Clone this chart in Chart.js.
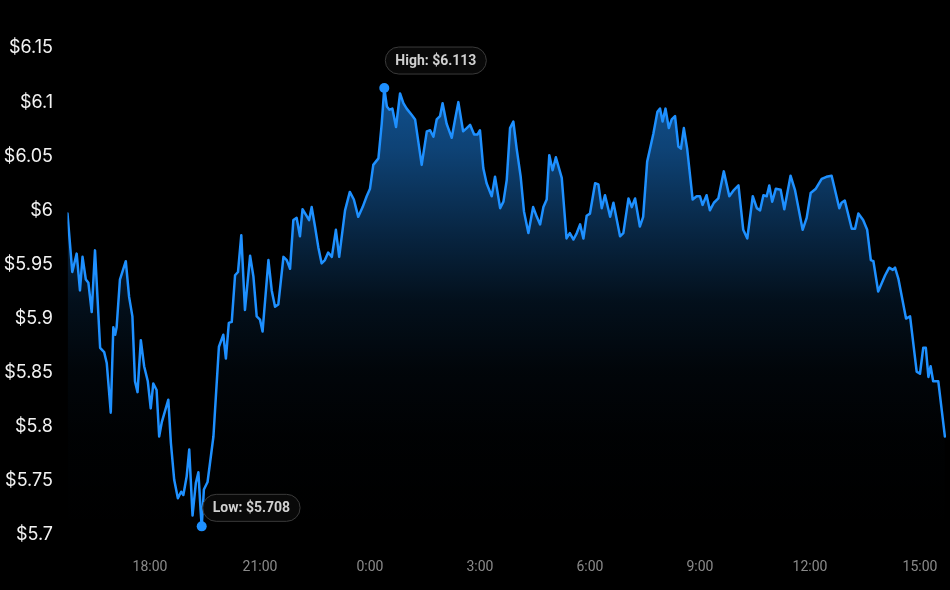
<!DOCTYPE html>
<html>
<head>
<meta charset="utf-8">
<script src="https://cdn.jsdelivr.net/npm/chart.js@4.4.1/dist/chart.umd.min.js"></script>
<style>
  html, body { margin: 0; padding: 0; background: #000; overflow: hidden; }
  #wrap { width: 950px; height: 590px; position: relative; }
</style>
</head>
<body>
<div id="wrap"><canvas id="c"></canvas></div>
<script>
// Time of each price point, in hours (values above 24 belong to the next day)
const times = [15.75,15.88,16.00,16.09,16.16,16.25,16.32,16.41,16.50,16.64,
  16.75,16.82,16.93,17.00,17.05,17.09,17.18,17.34,17.43,17.52,
  17.59,17.66,17.75,17.84,17.94,18.02,18.09,18.18,18.25,18.32,
  18.50,18.57,18.66,18.76,18.85,18.91,19.00,19.07,19.16,19.25,
  19.32,19.38,19.41,19.47,19.57,19.73,19.88,20.00,20.07,20.15,
  20.23,20.32,20.40,20.49,20.59,20.73,20.82,20.91,21.00,21.07,
  21.23,21.32,21.41,21.50,21.64,21.73,21.82,21.91,22.00,22.09,
  22.16,22.25,22.34,22.41,22.50,22.59,22.68,22.77,22.86,22.96,
  23.07,23.16,23.32,23.45,23.56,23.68,23.80,23.91,24.00,24.09,
  24.23,24.32,24.39,24.46,24.53,24.61,24.71,24.82,24.91,25.00,
  25.14,25.23,25.41,25.55,25.64,25.73,25.82,25.91,25.98,26.09,
  26.23,26.32,26.41,26.54,26.64,26.73,26.84,26.93,27.00,27.09,
  27.18,27.32,27.41,27.55,27.64,27.73,27.82,27.91,28.00,28.11,
  28.20,28.32,28.45,28.55,28.64,28.73,28.82,28.89,28.98,29.07,
  29.23,29.36,29.45,29.55,29.64,29.73,29.82,29.91,30.00,30.14,
  30.23,30.32,30.41,30.55,30.64,30.82,30.91,31.05,31.14,31.23,
  31.36,31.45,31.56,31.73,31.84,31.91,31.98,32.06,32.15,32.23,
  32.32,32.41,32.48,32.56,32.65,32.80,32.91,33.00,33.07,33.18,
  33.27,33.38,33.50,33.65,33.80,33.93,34.05,34.18,34.29,34.44,
  34.55,34.64,34.73,34.82,34.89,34.97,35.07,35.20,35.30,35.47,
  35.59,35.80,35.91,36.02,36.16,36.32,36.45,36.59,36.66,36.80,
  36.86,36.95,37.14,37.23,37.32,37.45,37.56,37.66,37.73,37.86,
  38.05,38.16,38.26,38.32,38.41,38.62,38.73,38.91,39.00,39.09,
  39.16,39.23,39.29,39.36,39.50,39.68];

// Price in USD at each time
const prices = [5.997,5.943,5.960,5.926,5.957,5.936,5.933,5.906,5.963,5.873,
  5.869,5.859,5.813,5.892,5.885,5.892,5.936,5.953,5.920,5.902,
  5.842,5.832,5.880,5.856,5.842,5.817,5.840,5.834,5.791,5.804,
  5.825,5.785,5.751,5.734,5.740,5.737,5.754,5.779,5.718,5.748,
  5.758,5.723,5.708,5.742,5.749,5.791,5.874,5.885,5.863,5.896,
  5.897,5.940,5.943,5.977,5.908,5.958,5.939,5.902,5.899,5.888,
  5.954,5.926,5.911,5.913,5.957,5.954,5.946,5.991,5.993,5.976,
  6.001,5.996,5.991,6.003,5.985,5.966,5.951,5.954,5.961,5.957,
  5.982,5.957,6.000,6.017,6.010,5.994,6.003,6.013,6.020,6.042,
  6.048,6.080,6.113,6.096,6.093,6.094,6.077,6.108,6.099,6.094,
  6.088,6.084,6.042,6.073,6.074,6.068,6.084,6.087,6.099,6.080,
  6.067,6.084,6.100,6.073,6.076,6.079,6.070,6.070,6.074,6.039,
  6.025,6.013,6.031,6.002,6.008,6.028,6.076,6.082,6.057,6.031,
  5.999,5.979,6.003,5.994,5.987,6.003,6.010,6.051,6.037,6.049,
  6.030,5.974,5.979,5.973,5.979,5.987,5.974,5.995,5.997,6.025,
  6.024,6.002,6.014,5.994,6.007,5.976,5.979,6.011,6.003,6.011,
  5.985,5.994,6.045,6.071,6.091,6.094,6.082,6.094,6.076,6.084,
  6.087,6.059,6.057,6.076,6.057,6.010,6.013,6.013,6.005,6.014,
  6.000,6.007,6.011,6.036,6.013,6.019,6.023,5.982,5.974,6.013,
  6.002,6.000,6.014,6.013,6.023,6.008,6.020,6.019,6.001,6.032,
  6.019,5.982,5.993,6.016,6.020,6.029,6.031,6.032,6.022,6.002,
  6.007,6.009,5.983,5.983,5.997,5.991,5.982,5.954,5.953,5.925,
  5.940,5.947,5.945,5.947,5.937,5.900,5.902,5.851,5.849,5.873,
  5.873,5.846,5.856,5.842,5.842,5.791];

// Axis ticks
const xTickHours = [18, 21, 24, 27, 30, 33, 36, 39];
const yTickValues = [5.7, 5.75, 5.8, 5.85, 5.9, 5.95, 6.0, 6.05, 6.1, 6.15];

const LINE = '#1E90FF';

const hiVal = Math.max(...prices);
const loVal = Math.min(...prices);
const hiIdx = prices.indexOf(hiVal);
const loIdx = prices.indexOf(loVal);

const pillPlugin = {
  id: 'pills',
  afterDatasetsDraw(chart) {
    const meta = chart.getDatasetMeta(0);
    const ctx = chart.ctx;
    const draw = (idx, text, dx, dy) => {
      const p = meta.data[idx];
      ctx.save();
      ctx.font = 'bold 14px Roboto, "Noto Sans", sans-serif';
      const w = ctx.measureText(text).width + 20;
      const h = 27;
      const x = p.x + dx, y = p.y + dy;
      ctx.beginPath();
      ctx.roundRect(x, y, w, h, h / 2);
      ctx.fillStyle = 'rgba(10,10,10,0.92)';
      ctx.fill();
      ctx.lineWidth = 1;
      ctx.strokeStyle = '#3a3a3a';
      ctx.stroke();
      ctx.fillStyle = '#d0d0d0';
      ctx.textBaseline = 'middle';
      ctx.textAlign = 'left';
      ctx.fillText(text, x + 10, y + h / 2 + 0.5);
      ctx.restore();
    };
    draw(hiIdx, 'High: $' + hiVal.toFixed(3), 1, -41);
    draw(loIdx, 'Low: $' + loVal.toFixed(3), 1, -32);
  }
};

new Chart(document.getElementById('c'), {
  type: 'line',
  data: {
    datasets: [{
      data: times.map((t, i) => ({ x: t, y: prices[i] })),
      borderColor: LINE,
      borderWidth: 2.5,
      borderJoinStyle: 'round',
      borderCapStyle: 'round',
      tension: 0,
      fill: 'start',
      backgroundColor: (c) => {
        const area = c.chart.chartArea;
        if (!area) return 'rgba(30,144,255,0.2)';
        const g = c.chart.ctx.createLinearGradient(0, area.top, 0, area.bottom);
        g.addColorStop(0, 'rgba(30,144,255,0.62)');
        g.addColorStop(0.21, 'rgba(30,144,255,0.46)');
        g.addColorStop(0.38, 'rgba(30,144,255,0.26)');
        g.addColorStop(0.52, 'rgba(30,144,255,0.11)');
        g.addColorStop(0.66, 'rgba(30,144,255,0.04)');
        g.addColorStop(0.8, 'rgba(30,144,255,0.012)');
        g.addColorStop(1, 'rgba(30,144,255,0.0)');
        return g;
      },
      pointRadius: (c) => (c.dataIndex === hiIdx || c.dataIndex === loIdx) ? 5 : 0,
      pointBackgroundColor: LINE,
      pointBorderWidth: 0,
      pointHoverRadius: 0
    }]
  },
  options: {
    responsive: true,
    maintainAspectRatio: false,
    animation: false,
    events: [],
    layout: { padding: { top: 48, right: 4, bottom: 14, left: 0 } },
    plugins: { legend: { display: false }, tooltip: { enabled: false } },
    scales: {
      x: {
        type: 'linear',
        min: 15.75,
        max: 39.71,
        grid: { display: false, drawTicks: false },
        border: { display: false },
        afterBuildTicks: (axis) => { axis.ticks = xTickHours.map(v => ({ value: v })); },
        afterFit: (axis) => { axis.height = 41; axis.paddingLeft = 0; axis.paddingRight = 0; },
        ticks: {
          padding: 24,
          color: '#8a8a8a',
          font: { family: 'Roboto, "Noto Sans", sans-serif', size: 14 },
          maxRotation: 0,
          autoSkip: false,
          callback: (v) => (v % 24) + ':00'
        }
      },
      y: {
        min: 5.7,
        max: 6.15,
        grid: { display: false, drawTicks: false },
        border: { display: false },
        afterBuildTicks: (axis) => { axis.ticks = yTickValues.map(v => ({ value: v })); },
        afterFit: (axis) => { axis.width = 67.5; axis.paddingTop = 0; axis.paddingBottom = 0; },
        ticks: {
          padding: 14.5,
          color: '#f2f2f2',
          font: { family: 'Inter, Roboto, sans-serif', size: 18 },
          callback: (v) => '$' + parseFloat(Number(v).toFixed(2))
        }
      }
    }
  },
  plugins: [pillPlugin]
});
</script>
</body>
</html>
